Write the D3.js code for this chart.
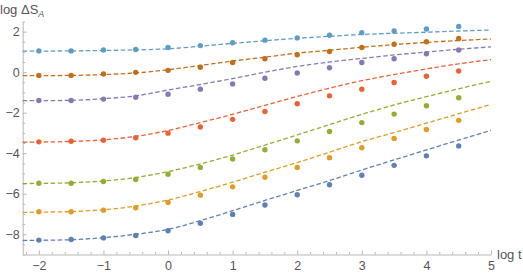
<!DOCTYPE html>
<html>
<head>
<meta charset="utf-8">
<script src="https://cdn.jsdelivr.net/npm/d3@7"></script>
<style>
  html, body { margin: 0; padding: 0; background: #fff; }
  svg { display: block; font-family: "Liberation Sans", "DejaVu Sans", sans-serif; }
</style>
</head>
<body>
<div id="chart"></div>
<script>
// data: log t positions of the dots and of the dashed fit curves
const tPoints = [-2, -1.5, -1, -0.5, 0, 0.5, 1, 1.5, 2, 2.5, 3, 3.5, 4, 4.5];
const tCurve = [-2.25, -2, -1.5, -1, -0.5, 0, 0.5, 1, 1.5, 2, 2.5, 3, 3.5, 4, 4.5, 5];

// dots, bottom series first
const pointsBlue       = [-8.29, -8.26, -8.18, -8.06, -7.83, -7.46, -7.02, -6.56, -6.05, -5.56, -5.09, -4.60, -4.13, -3.64];
const pointsOrange     = [-6.89, -6.89, -6.81, -6.69, -6.43, -6.07, -5.66, -5.19, -4.70, -4.22, -3.73, -3.27, -2.83, -2.38];
const pointsGreen      = [-5.48, -5.48, -5.40, -5.30, -5.04, -4.70, -4.29, -3.83, -3.39, -2.93, -2.49, -2.07, -1.66, -1.26];
const pointsRed        = [-3.44, -3.41, -3.36, -3.24, -3.01, -2.71, -2.33, -1.94, -1.56, -1.17, -0.84, -0.51, -0.20, 0.06];
const pointsPurple     = [-1.40, -1.40, -1.33, -1.24, -1.09, -0.84, -0.58, -0.30, -0.04, 0.22, 0.48, 0.66, 0.91, 1.09];
const pointsDarkOrange = [-0.16, -0.16, -0.09, -0.01, 0.09, 0.24, 0.48, 0.66, 0.86, 1.02, 1.22, 1.38, 1.50, 1.66];
const pointsLightBlue  = [1.05, 1.05, 1.09, 1.12, 1.22, 1.31, 1.45, 1.58, 1.69, 1.82, 1.95, 2.03, 2.13, 2.25];

// dashed curves
const curveBlue       = [-8.31, -8.30, -8.27, -8.17, -8.00, -7.76, -7.33, -6.84, -6.33, -5.84, -5.35, -4.83, -4.33, -3.84, -3.35, -2.87];
const curveOrange     = [-6.92, -6.91, -6.88, -6.79, -6.61, -6.31, -5.89, -5.43, -4.94, -4.46, -3.95, -3.43, -2.98, -2.52, -2.05, -1.60];
const curveGreen      = [-5.50, -5.49, -5.46, -5.37, -5.20, -4.91, -4.53, -4.09, -3.60, -3.10, -2.59, -2.08, -1.62, -1.21, -0.82, -0.45];
const curveRed        = [-3.46, -3.45, -3.42, -3.34, -3.17, -2.88, -2.49, -2.08, -1.64, -1.20, -0.79, -0.42, -0.12, 0.16, 0.41, 0.62];
const curvePurple     = [-1.41, -1.41, -1.39, -1.31, -1.17, -0.88, -0.61, -0.32, 0.00, 0.28, 0.50, 0.68, 0.85, 0.99, 1.13, 1.25];
const curveDarkOrange = [-0.17, -0.17, -0.16, -0.12, -0.04, 0.12, 0.33, 0.55, 0.74, 0.94, 1.08, 1.23, 1.36, 1.47, 1.56, 1.64];
const curveLightBlue  = [1.04, 1.04, 1.05, 1.07, 1.10, 1.15, 1.28, 1.42, 1.55, 1.67, 1.77, 1.86, 1.92, 1.97, 2.03, 2.08];

const colors = ["#5e81b5", "#e19c24", "#8fb032", "#eb6235", "#8778b3", "#c56e1a", "#5d9ec7"];

const xTicks = [-2, -1, 0, 1, 2, 3, 4, 5];
const yTicks = [2, 0, -2, -4, -6, -8];

const series = [
  { pts: pointsBlue, curve: curveBlue },
  { pts: pointsOrange, curve: curveOrange },
  { pts: pointsGreen, curve: curveGreen },
  { pts: pointsRed, curve: curveRed },
  { pts: pointsPurple, curve: curvePurple },
  { pts: pointsDarkOrange, curve: curveDarkOrange },
  { pts: pointsLightBlue, curve: curveLightBlue }
].map((s, i) => ({ ...s, color: colors[i] }));

const width = 523, height = 276;
const margin = { left: 22.7, right: 32, top: 21.5, bottom: 21.5 };

const x = d3.scaleLinear().domain([-2.25, 5]).range([margin.left, width - margin.right]);
const y = d3.scaleLinear().domain([-9, 2.5]).range([height - margin.bottom, margin.top]);

const svg = d3.select("#chart").append("svg")
    .attr("width", width)
    .attr("height", height);

const axisColor = "#b8b8b8";
const textColor = "#555";

// minor ticks first, then major axes on top
const xMinor = d3.range(-2.2, 5.001, 0.2).map(v => +v.toFixed(1)).filter(v => !Number.isInteger(v));
const yMinor = d3.range(-9, 2.501, 0.5).filter(v => v % 2 !== 0);

svg.append("g")
    .attr("transform", `translate(0,${y(-9)})`)
    .call(d3.axisBottom(x).tickValues(xMinor).tickSize(-2.5).tickFormat(""))
    .call(g => g.select(".domain").remove())
    .call(g => g.selectAll("line").attr("stroke", axisColor));

svg.append("g")
    .attr("transform", `translate(${x(-2.25)},0)`)
    .call(d3.axisLeft(y).tickValues(yMinor).tickSize(-2.5).tickFormat(""))
    .call(g => g.select(".domain").remove())
    .call(g => g.selectAll("line").attr("stroke", axisColor));

const xAxis = svg.append("g")
    .attr("transform", `translate(0,${y(-9)})`)
    .call(d3.axisBottom(x).tickValues(xTicks).tickSizeInner(-4).tickSizeOuter(0).tickPadding(6.5).tickFormat(d3.format("d")));

const yAxis = svg.append("g")
    .attr("transform", `translate(${x(-2.25)},0)`)
    .call(d3.axisLeft(y).tickValues(yTicks).tickSizeInner(-4).tickSizeOuter(0).tickPadding(3).tickFormat(d3.format("d")));

[xAxis, yAxis].forEach(g => {
  g.select(".domain").attr("stroke", axisColor);
  g.selectAll("line").attr("stroke", axisColor);
  g.selectAll("text").attr("fill", textColor).attr("font-size", 12.5)
      .attr("font-family", "'Liberation Sans', sans-serif");
});

// dashed fit curves
const line = d3.line()
    .x((d, i) => x(tCurve[i]))
    .y(d => y(d))
    .curve(d3.curveMonotoneX);

svg.append("g")
  .selectAll("path")
  .data(series)
  .join("path")
    .attr("d", d => line(d.curve))
    .attr("fill", "none")
    .attr("stroke", d => d.color)
    .attr("stroke-width", 1.3)
    .attr("stroke-dasharray", "4.5,2.5");

// dots
svg.append("g")
  .selectAll("g")
  .data(series)
  .join("g")
    .attr("fill", d => d.color)
  .selectAll("circle")
  .data(d => d.pts)
  .join("circle")
    .attr("cx", (d, i) => x(tPoints[i]))
    .attr("cy", d => y(d))
    .attr("r", 2.7);

// axis titles
const yLabel = svg.append("text")
    .attr("x", 0)
    .attr("y", 13.5)
    .attr("fill", textColor)
    .attr("font-size", 13);
yLabel.append("tspan").text("log ΔS");
yLabel.append("tspan")
    .attr("font-size", 9)
    .attr("font-style", "italic")
    .attr("dy", 3)
    .text("A");

svg.append("text")
    .attr("x", 497)
    .attr("y", 259)
    .attr("fill", textColor)
    .attr("font-size", 13)
    .text("log t");
</script>
</body>
</html>
